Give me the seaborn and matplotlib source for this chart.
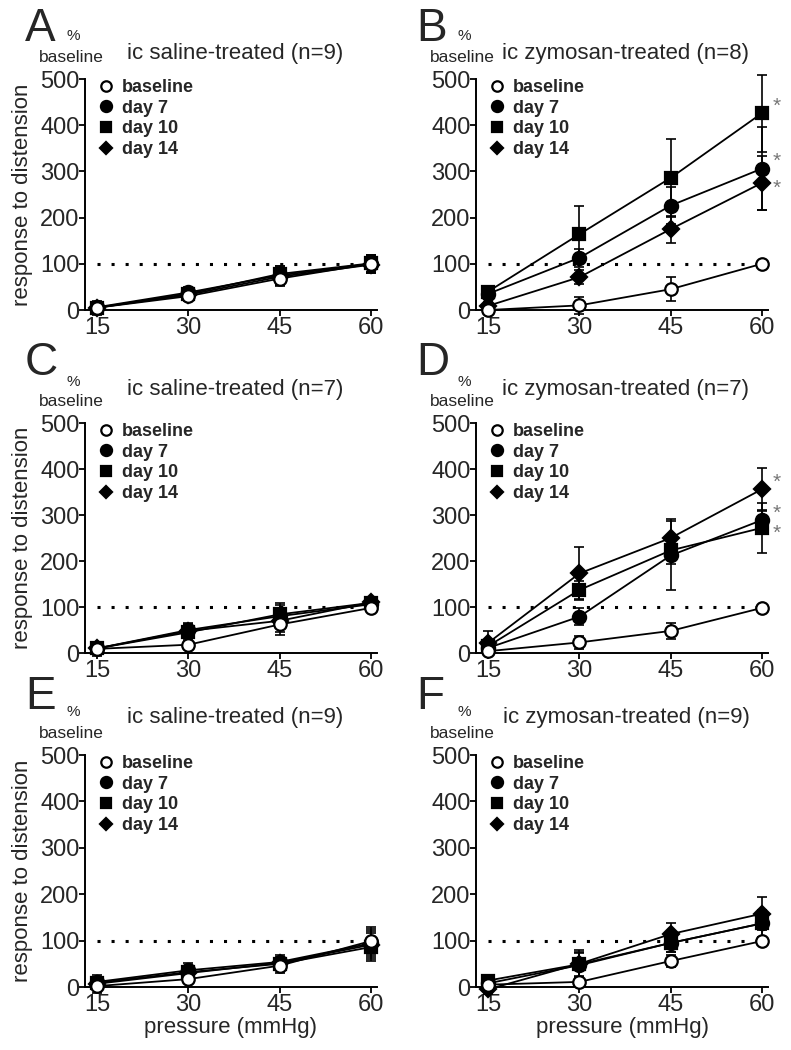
import numpy as np
import pandas as pd
import matplotlib
matplotlib.use("Agg")
import matplotlib.pyplot as plt
from matplotlib.lines import Line2D
import seaborn as sns

# ---- data ----
pressure = [15, 30, 45, 60]
groups = ["baseline", "day 7", "day 10", "day 14"]
letters = ["A", "B", "C", "D", "E", "F"]
titles = ["ic saline-treated (n=9)", "ic zymosan-treated (n=8)",
          "ic saline-treated (n=7)", "ic zymosan-treated (n=7)",
          "ic saline-treated (n=9)", "ic zymosan-treated (n=9)"]

# rows: baseline, day 7, day 10, day 14
A_mean = [[5, 30, 68, 100], [6, 38, 75, 100], [5, 35, 78, 101], [5, 33, 72, 98]]
A_err = [[15, 10, 15, 20], [10, 12, 20, 18], [10, 12, 18, 18], [10, 12, 18, 18]]
B_mean = [[0, 10, 45, 100], [35, 113, 226, 306], [40, 164, 286, 426], [9, 71, 175, 275]]
B_err = [[5, 18, 26, 5], [12, 20, 40, 90], [12, 62, 85, 83], [8, 15, 29, 59]]
C_mean = [[9, 18, 62, 98], [10, 50, 80, 106], [10, 45, 84, 109], [10, 48, 70, 110]]
C_err = [[15, 8, 22, 8], [10, 15, 25, 10], [10, 15, 25, 10], [10, 15, 25, 10]]
D_mean = [[4, 23, 48, 98], [11, 79, 212, 289], [15, 137, 223, 272], [22, 173, 250, 356]]
D_err = [[5, 15, 17, 5], [10, 18, 75, 20], [12, 20, 30, 55], [25, 57, 41, 46]]
E_mean = [[2, 17, 46, 99], [11, 36, 54, 94], [9, 32, 50, 86], [7, 30, 52, 91]]
E_err = [[15, 8, 15, 30], [15, 15, 15, 30], [12, 12, 12, 30], [12, 12, 12, 30]]
F_mean = [[5, 11, 56, 99], [8, 47, 95, 137], [14, 49, 95, 137], [-5, 50, 114, 158]]
F_err = [[5, 8, 12, 5], [8, 28, 20, 30], [8, 25, 20, 30], [10, 29, 23, 36]]
starred = {"B": ["day 10", "day 7", "day 14"], "D": ["day 14", "day 7", "day 10"]}

means = [A_mean, B_mean, C_mean, D_mean, E_mean, F_mean]
errs = [A_err, B_err, C_err, D_err, E_err, F_err]

markers = {"baseline": "o", "day 7": "o", "day 10": "s", "day 14": "D"}
faces = {"baseline": "white", "day 7": "black", "day 10": "black", "day 14": "black"}
msize = {"baseline": 9, "day 7": 9.5, "day 10": 8.5, "day 14": 8}

sns.set_theme(style="ticks")
plt.rcParams["font.family"] = ["Liberation Sans", "DejaVu Sans"]

W, H = 791, 1050
fig = plt.figure(figsize=(W / 100, H / 100), dpi=100)


def fx(x):
    return x / W


def fy(y):
    return 1 - y / H


cols = [85, 476]
rows = [(79, 310), (423, 653), (755, 987)]
title_dy = [26, 33, 38]
letter_dy = [38, 48, 46]
pct_dy = [43, 41, 43]
base_dy = [21, 22, 22]
ax_w = 292

for i in range(6):
    r, c = divmod(i, 2)
    L = cols[c]
    T, B = rows[r]
    ax = fig.add_axes([fx(L), fy(B), ax_w / W, (B - T) / H])

    rows_df = []
    for g, m, e in zip(groups, means[i], errs[i]):
        for p, v, s in zip(pressure, m, e):
            rows_df.append({"pressure": p, "group": g, "value": v, "err": s})
    df = pd.DataFrame(rows_df)

    # reference line at 100 % baseline
    ax.hlines(100, 15, 60, colors="black", linestyles=(0, (1, 3.6)), lw=2.2, zorder=1)

    for g in ["day 7", "day 10", "day 14", "baseline"]:
        sub = df[df["group"] == g]
        ax.errorbar(sub["pressure"], sub["value"], yerr=sub["err"], fmt="none",
                    ecolor="black", elinewidth=1.2, capsize=3.5, capthick=1.2,
                    zorder=2, clip_on=False)
        sns.lineplot(data=sub, x="pressure", y="value", ax=ax, color="black",
                     lw=1.3, marker=markers[g], markersize=msize[g],
                     markerfacecolor=faces[g], markeredgecolor="black",
                     markeredgewidth=1.6, zorder=3, clip_on=False, legend=False)

    letter = letters[i]
    if letter in starred:
        for k, g in enumerate(starred[letter]):
            last = df[(df["group"] == g) & (df["pressure"] == 60)]["value"].iloc[0]
            dy = -4 if k == 2 else 5
            ax.annotate("*", (60, last), xytext=(8, dy), textcoords="offset points",
                        ha="left", va="center", fontsize=15, color="#777777",
                        annotation_clip=False)

    ax.set_xlim(13, 61)
    ax.set_ylim(0, 500)
    ax.set_xticks(pressure)
    ax.set_yticks([0, 100, 200, 300, 400, 500])
    ax.tick_params(axis="both", labelsize=17, length=4, width=1.3, pad=1, color="black")
    ax.tick_params(axis="y", pad=0)
    for side in ["top", "right"]:
        ax.spines[side].set_visible(False)
    for side in ["left", "bottom"]:
        ax.spines[side].set_linewidth(1.4)
        ax.spines[side].set_color("black")
    ax.set_xlabel("pressure (mmHg)" if r == 2 else "", fontsize=16, labelpad=1)
    if c == 0:
        ax.set_ylabel("response to distension", fontsize=16)
        ax.yaxis.set_label_coords((33 - L) / ax_w, 0.5)
    else:
        ax.set_ylabel("")

    handles = [Line2D([], [], ls="none", marker=markers[g], markersize=msize[g] - 1.5,
                      markerfacecolor=faces[g], markeredgecolor="black",
                      markeredgewidth=1.6) for g in groups]
    ax.legend(handles, groups, loc="upper left", bbox_to_anchor=(0.055, 1.0),
              frameon=False, handlelength=0.6, handletextpad=0.55, labelspacing=0.2,
              borderaxespad=0, borderpad=0,
              prop={"size": 13, "weight": "bold"})

    # panel letter, "% baseline" and title
    fig.text(fx(L - 60), fy(T - letter_dy[r]), letter, fontsize=33, ha="left", va="baseline")
    fig.text(fx(L - 12), fy(T - pct_dy[r]), "%", fontsize=11, ha="center", va="center")
    fig.text(fx(L - 14), fy(T - base_dy[r]), "baseline", fontsize=12.5, ha="center", va="center")
    fig.text(fx(L + 150), fy(T - title_dy[r]), titles[i], fontsize=16,
             ha="center", va="center")

fig.savefig("out.png", dpi=100)
